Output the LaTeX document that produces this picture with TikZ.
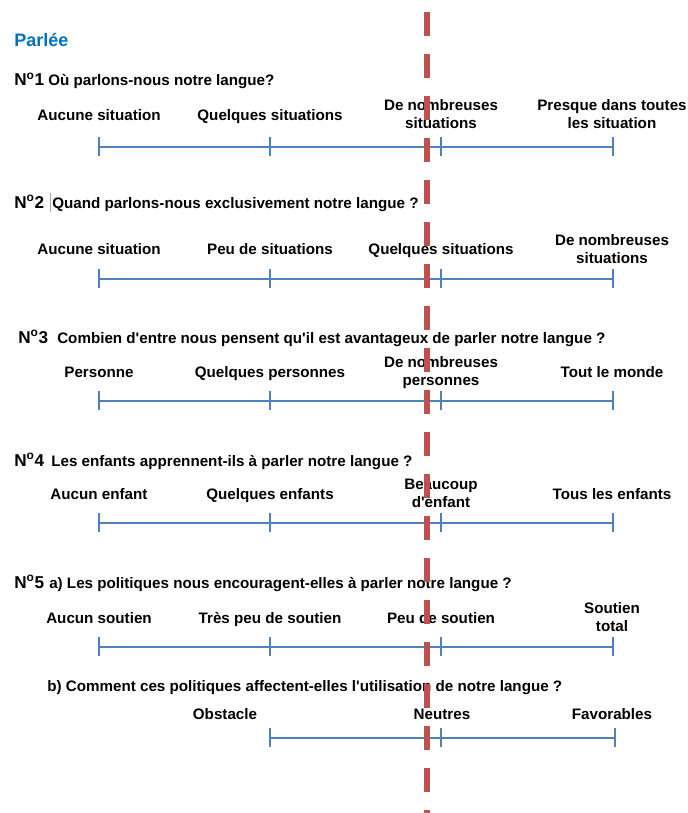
\documentclass[tikz,border=0pt]{standalone}
\usepackage{fontspec}
\setmainfont{Liberation Sans}[Ligatures=TeXOff]
\definecolor{axisblue}{RGB}{79,129,189}
\definecolor{cutred}{RGB}{192,80,77}
\definecolor{titleblue}{RGB}{0,112,192}
\tikzset{
	lab/.style={font=\fontsize{10.8}{12.8}\selectfont\bfseries, align=center, inner sep=0pt,
		execute at begin node=\strut, execute at end node=\strut},
	quest/.style={font=\fontsize{10.8}{13}\selectfont\bfseries, anchor=base west, inner sep=0pt},
	qnum/.style={font=\fontsize{12.2}{15}\selectfont\bfseries, anchor=base west, inner sep=0pt},
	axis/.style={axisblue, line width=2.1pt},
	tick/.style={axisblue, line width=1pt},
	cut/.style={cutred, line width=4.3pt, dash pattern=on 0.6cm off 0.45cm}
}
\begin{document}
\begin{tikzpicture}[x=0.025cm,y=-0.025cm]
		\useasboundingbox (0,0) rectangle (688,813);
		
		\node[anchor=west, inner sep=0pt, text=titleblue, font=\fontsize{12.8}{15}\selectfont\bfseries] (parlee) at (14,40) {Parlée};
		
		% question 1
		\node[qnum] (n1) at (14,86) {N\textsuperscript{o}1};
		\node[quest] (q1) at (48,86) {Où parlons-nous notre langue?};
		\node[lab] (l11) at (99,116.5) {Aucune situation};
		\node[lab] (l12) at (270,116.5) {Quelques situations};
		\node[lab] (l13) at (441,116.5) {De nombreuses\\situations};
		\node[lab] (l14) at (612,116.5) {Presque dans toutes\\les situation};
		
		% question 2
		\node[qnum] (n2) at (14,208) {N\textsuperscript{o}2};
		\coordinate (bar2a) at (50,193);
		\coordinate (bar2b) at (50,212);
		\draw[gray!70, line width=0.5pt] (bar2a) -- (bar2b);
		\node[quest] (q2) at (52,208) {Quand parlons-nous exclusivement notre langue ?};
		\node[lab] (l21) at (99,250.5) {Aucune situation};
		\node[lab] (l22) at (270,250.5) {Peu de situations};
		\node[lab] (l23) at (441,250.5) {Quelques situations};
		\node[lab] (l24) at (612,251.5) {De nombreuses\\situations};
		
		% question 3
		\node[qnum] (n3) at (18,343) {N\textsuperscript{o}3};
		\node[quest] (q3) at (57,343) {Combien d'entre nous pensent qu'il est avantageux de parler notre langue ?};
		\node[lab] (l31) at (99,373.5) {Personne};
		\node[lab] (l32) at (270,373.5) {Quelques personnes};
		\node[lab] (l33) at (441,373.5) {De nombreuses\\personnes};
		\node[lab] (l34) at (612,373.5) {Tout le monde};
		
		% question 4
		\node[qnum] (n4) at (14,466) {N\textsuperscript{o}4};
		\node[quest] (q4) at (51,466) {Les enfants apprennent-ils à parler notre langue ?};
		\node[lab] (l41) at (99,495.5) {Aucun enfant};
		\node[lab] (l42) at (270,495.5) {Quelques enfants};
		\node[lab] (l43) at (441,495.5) {Beaucoup\\d'enfant};
		\node[lab] (l44) at (612,495.5) {Tous les enfants};
		
		% question 5
		\node[qnum] (n5) at (14,588) {N\textsuperscript{o}5};
		\node[quest] (q5a) at (49,588) {a) Les politiques nous encouragent-elles à parler notre langue ?};
		\node[lab] (l51) at (99,619.5) {Aucun soutien};
		\node[lab] (l52) at (270,619.5) {Très peu de soutien};
		\node[lab] (l53) at (441,619.5) {Peu de soutien};
		\node[lab] (l54) at (612,619.5) {Soutien\\total};
		
		\node[quest] (q5b) at (47,691) {b) Comment ces politiques affectent-elles l'utilisation de notre langue ?};
		\node[lab] (l61) at (225,715.5) {Obstacle};
		\node[lab] (l62) at (442,715.5) {Neutres};
		\node[lab] (l63) at (612,715.5) {Favorables};
		
		% scales
		\foreach \r/\y in {1/147,2/279,3/401,4/523,5/647} {
			\foreach \i/\x in {1/99,2/270,3/441,4/613}
				\coordinate (t\r\i) at (\x,\y);
			\draw[axis] (t\r1) -- (t\r4);
			\foreach \i in {1,...,4}
				\draw[tick] (t\r\i) ++(0,-10) -- ++(0,19);
		}
		\coordinate (t61) at (270,738);
		\coordinate (t62) at (441,738);
		\coordinate (t63) at (615,738);
		\draw[axis] (t61) -- (t63);
		\foreach \i in {1,2,3}
			\draw[tick] (t6\i) ++(0,-10) -- ++(0,19);
		
		% cut line
		\coordinate (cuttop) at (427,12);
		\coordinate (cutbot) at (427,813);
		\draw[cut] (cuttop) -- (cutbot);
\end{tikzpicture}
\end{document}
